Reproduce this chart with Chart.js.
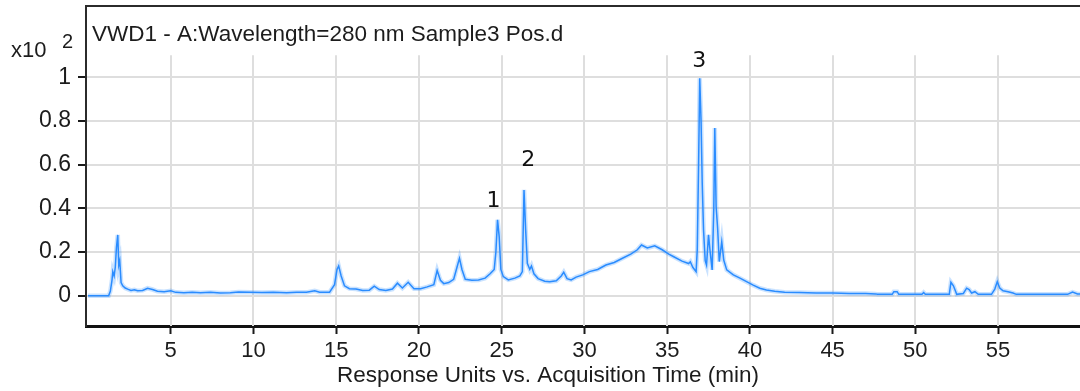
<!DOCTYPE html>
<html>
<head>
<meta charset="utf-8">
<script src="https://cdn.jsdelivr.net/npm/chart.js@4/dist/chart.umd.min.js"></script>
<style>
  html, body { margin: 0; padding: 0; background: #fff; }
  #wrap { width: 1080px; height: 391px; }
</style>
</head>
<body>
<div id="wrap"><canvas id="chrom" width="1080" height="391"></canvas></div>
<script>
// acquisition time (min) and response (x10^2)
const times = [
  0, 1.25, 1.35, 1.45, 1.5, 1.58, 1.65, 1.72, 1.8, 1.86, 1.92, 2.0, 2.1, 2.25, 2.4, 2.6, 2.8,
  3.0, 3.3, 3.6, 3.9, 4.2, 4.6, 5.0, 5.3, 5.8, 6.3, 6.8, 7.4, 8.0, 8.6, 9.1, 9.8, 10.5, 11.2,
  12.0, 12.6, 13.2, 13.7, 14.0, 14.6, 14.9, 15.05, 15.15, 15.3, 15.5, 15.8, 16.2, 16.6, 17.0,
  17.3, 17.6, 18.0, 18.4, 18.7, 19.0, 19.35, 19.7, 20.1, 20.5, 20.9, 21.1, 21.3, 21.5, 21.8,
  22.1, 22.3, 22.45, 22.6, 22.8, 23.2, 23.6, 24.0, 24.3, 24.55, 24.65, 24.75, 24.85, 24.95,
  25.1, 25.4, 25.8, 26.1, 26.25, 26.35, 26.45, 26.55, 26.7, 26.8, 26.95, 27.2, 27.6, 27.9,
  28.3, 28.6, 28.75, 28.95, 29.2, 29.5, 29.9, 30.3, 30.8, 31.3, 31.8, 32.3, 32.8, 33.2, 33.45,
  33.8, 34.25, 34.7, 35.1, 35.4, 35.9, 36.3, 36.4, 36.55, 36.75, 36.82, 36.9, 36.97, 37.05,
  37.12, 37.2, 37.3, 37.38, 37.5, 37.6, 37.72, 37.82, 37.88, 37.96, 38.05, 38.15, 38.3, 38.42,
  38.6, 39.0, 39.4, 39.8, 40.2, 40.6, 41.0, 41.5, 42.1, 43.0, 44.0, 45.0, 46.0, 47.0, 47.6,
  47.7, 48.6, 48.7, 48.9, 49.0, 50.4, 50.5, 50.6, 52.05, 52.15, 52.3, 52.4, 52.5, 52.9, 53.1,
  53.25, 53.4, 53.6, 53.8, 54.6, 54.8, 54.95, 55.1, 55.3, 55.6, 55.9, 56.1, 59.2, 59.5, 59.8, 60
];
const response = [
  0, 0, 0.02, 0.07, 0.11, 0.09, 0.13, 0.22, 0.278, 0.14, 0.16, 0.06, 0.045, 0.035, 0.03, 0.024, 0.027,
  0.022, 0.024, 0.034, 0.028, 0.02, 0.018, 0.022, 0.015, 0.013, 0.016, 0.013, 0.015, 0.012, 0.013, 0.017, 0.016, 0.014, 0.016,
  0.013, 0.016, 0.015, 0.022, 0.016, 0.016, 0.05, 0.12, 0.136, 0.09, 0.045, 0.032, 0.03, 0.024, 0.025,
  0.043, 0.028, 0.024, 0.03, 0.057, 0.035, 0.061, 0.032, 0.032, 0.04, 0.05, 0.115, 0.07, 0.055, 0.06,
  0.075, 0.13, 0.171, 0.12, 0.075, 0.07, 0.072, 0.08, 0.1, 0.12, 0.2, 0.347, 0.27, 0.12,
  0.087, 0.072, 0.08, 0.09, 0.11, 0.484, 0.3, 0.148, 0.12, 0.136, 0.1, 0.078, 0.066, 0.064,
  0.068, 0.09, 0.107, 0.078, 0.072, 0.085, 0.095, 0.11, 0.12, 0.14, 0.152, 0.171, 0.19, 0.21, 0.232,
  0.218, 0.228, 0.21, 0.19, 0.178, 0.158, 0.147, 0.155, 0.13, 0.11, 0.21, 0.6, 0.995, 0.8,
  0.515, 0.3, 0.16, 0.14, 0.278, 0.2, 0.118, 0.4, 0.767, 0.407, 0.309, 0.156, 0.247, 0.163,
  0.118, 0.095, 0.08, 0.064, 0.048, 0.034, 0.026, 0.02, 0.016, 0.014, 0.012, 0.012, 0.01, 0.01, 0.008,
  0.006, 0.006, 0.018, 0.018, 0.006, 0.006, 0.014, 0.006, 0.006, 0.061, 0.045, 0.026, 0.006, 0.01, 0.034,
  0.028, 0.012, 0.018, 0.006, 0.006, 0.03, 0.064, 0.035, 0.022, 0.018, 0.012, 0.006, 0.006, 0.016, 0.008, 0.008
];
const xTicks = [5, 10, 15, 20, 25, 30, 35, 40, 45, 50, 55];
const yTicks = [0, 0.2, 0.4, 0.6, 0.8, 1];
const peakLabels = ["1", "2", "3"];
const peakLabelAt = [[24.5, 0.43], [26.6, 0.621], [36.94, 1.071]];

const pts = times.map((t, i) => ({ x: t, y: response[i] }));
const TXT = "#1c1c1c";
const FONT = "'Liberation Sans', Arial, sans-serif";

const decor = {
  id: "decor",
  beforeDatasetsDraw(chart) {
    const { ctx, chartArea, scales } = chart;
    const top = scales.y.getPixelForValue(1.1);
    ctx.save();
    ctx.strokeStyle = "#dedede";
    ctx.lineWidth = 2;
    xTicks.forEach((v) => {
      const x = Math.round(scales.x.getPixelForValue(v));
      ctx.beginPath();
      ctx.moveTo(x, top);
      ctx.lineTo(x, chartArea.bottom);
      ctx.stroke();
    });
    ctx.restore();
  },
  afterDraw(chart) {
    const { ctx, chartArea, scales } = chart;
    ctx.save();
    // top frame line
    ctx.strokeStyle = "#2b2b2b";
    ctx.lineWidth = 2;
    ctx.beginPath();
    ctx.moveTo(chartArea.left, chartArea.top);
    ctx.lineTo(chartArea.right, chartArea.top);
    ctx.stroke();

    ctx.fillStyle = TXT;
    ctx.textBaseline = "alphabetic";
    ctx.textAlign = "left";
    ctx.font = "22.5px " + FONT;
    ctx.fillText("VWD1 - A:Wavelength=280 nm Sample3 Pos.d", 92, 40.5);

    ctx.font = "22px " + FONT;
    ctx.fillText("x10", 11, 56.5);
    ctx.font = "20px " + FONT;
    ctx.fillText("2", 62, 48);

    ctx.font = "22.5px " + FONT;
    ctx.textAlign = "center";
    ctx.fillText("Response Units vs. Acquisition Time (min)", 548, 382);

    ctx.font = "22px 'DejaVu Sans', sans-serif";
    ctx.textBaseline = "middle";
    ctx.fillStyle = "#111";
    peakLabels.forEach((s, i) => {
      const [t, v] = peakLabelAt[i];
      ctx.fillText(s, scales.x.getPixelForValue(t), scales.y.getPixelForValue(v));
    });
    ctx.restore();
  }
};

new Chart(document.getElementById("chrom"), {
  type: "line",
  data: {
    datasets: [
      {
        data: pts,
        borderColor: "#2a8cff",
        borderWidth: 1.5,
        pointRadius: 0,
        tension: 0,
        order: 1
      },
      {
        data: pts,
        borderColor: "rgba(60,150,255,0.28)",
        borderWidth: 4.5,
        pointRadius: 0,
        tension: 0,
        order: 2
      }
    ]
  },
  options: {
    responsive: false,
    animation: false,
    events: [],
    layout: { padding: { top: 6, right: 0, left: 0, bottom: 0 } },
    plugins: { legend: { display: false }, tooltip: { enabled: false } },
    scales: {
      x: {
        type: "linear",
        min: -0.12,
        max: 59.95,
        afterBuildTicks: (s) => { s.ticks = xTicks.map((v) => ({ value: v })); },
        afterFit: (s) => { s.height = 65; s.paddingLeft = 0; s.paddingRight = 0; },
        ticks: { color: TXT, font: { family: FONT, size: 22 }, padding: 4, maxRotation: 0, autoSkip: false },
        grid: { drawOnChartArea: false, drawTicks: true, tickLength: 8, tickColor: "#1a1a1a", tickWidth: 2 },
        border: { color: "#111", width: 3 }
      },
      y: {
        min: -0.139,
        max: 1.326,
        afterBuildTicks: (s) => { s.ticks = yTicks.map((v) => ({ value: v })); },
        afterFit: (s) => { s.width = 86; s.paddingTop = 0; s.paddingBottom = 0; },
        ticks: { color: TXT, font: { family: FONT, size: 23 }, padding: 7, callback: (v) => String(v) },
        grid: { color: "#dedede", lineWidth: 2, tickLength: 8, tickColor: "#1a1a1a", tickWidth: 2 },
        border: { color: "#2b2b2b", width: 2 }
      }
    }
  },
  plugins: [decor]
});
</script>
</body>
</html>
